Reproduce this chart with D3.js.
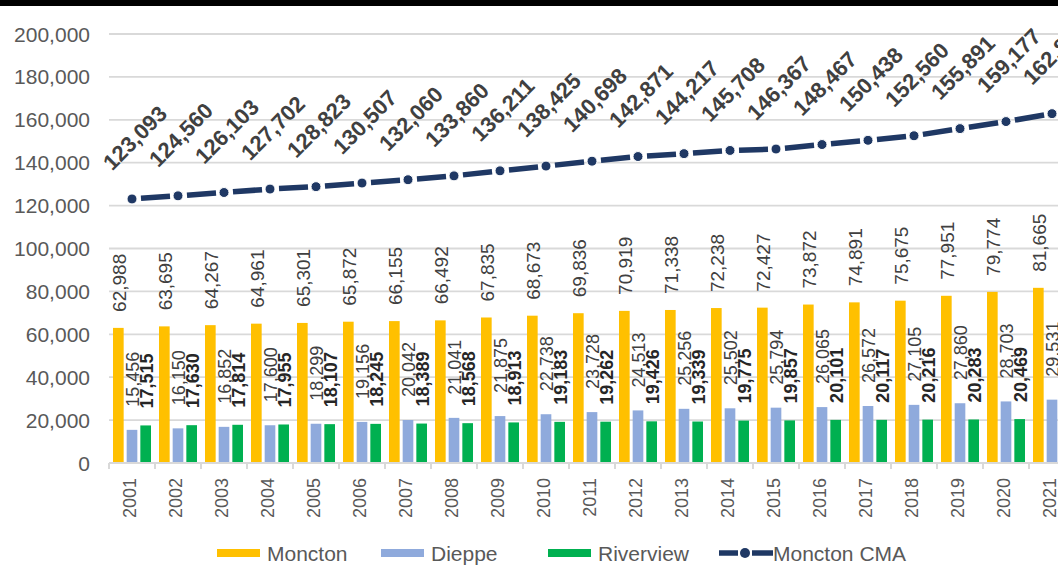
<!DOCTYPE html>
<html>
<head>
    <meta charset="utf-8">
    <script src="https://cdn.jsdelivr.net/npm/d3@7/dist/d3.min.js"></script>
    <style>
        body { margin: 0; background: #fff; }
        svg { display: block; font-family: "Liberation Sans", Arial, sans-serif; }
    </style>
</head>
<body>
<div id="chart"></div>
<script>
    var years = ["2001","2002","2003","2004","2005","2006","2007","2008","2009","2010",
        "2011","2012","2013","2014","2015","2016","2017","2018","2019","2020","2021"];
    var moncton = [62988,63695,64267,64961,65301,65872,66155,66492,67835,68673,
        69836,70919,71338,72238,72427,73872,74891,75675,77951,79774,81665];
    var dieppe = [15456,16150,16852,17600,18299,19156,20042,21041,21875,22738,
        23728,24513,25256,25502,25794,26065,26572,27105,27860,28703,29531];
    var riverview = [17515,17630,17814,17955,18107,18245,18389,18568,18913,19183,
        19262,19426,19339,19775,19857,20101,20117,20216,20283,20469,20640];
    var monctonCMA = [123093,124560,126103,127702,128823,130507,132060,133860,136211,138425,
        140698,142871,144217,145708,146367,148467,150438,152560,155891,159177,162860];
    var yTicks = [0,20000,40000,60000,80000,100000,120000,140000,160000,180000,200000];

    var barSeries = [
        { name: "Moncton", values: moncton, color: "#FFC000" },
        { name: "Dieppe", values: dieppe, color: "#8FAADC" },
        { name: "Riverview", values: riverview, color: "#00B050" }
    ];
    var lineColor = "#1F3864";

    var width = 1058, height = 567;
    var fmt = d3.format(",");

    var svg = d3.select("#chart").append("svg")
        .attr("width", width)
        .attr("height", height);

    // cropped black band at top of the screenshot
    svg.append("rect").attr("x", 0).attr("y", 0).attr("width", width).attr("height", 6).attr("fill", "#000");

    var x = d3.scaleBand().domain(years).range([109, 109 + 46 * years.length]);
    var xs = d3.scaleBand().domain(barSeries.map(d => d.name)).range([4, 42]).paddingInner(0.22);
    var y = d3.scaleLinear().domain([0, 200000]).range([463, 34]);

    // gridlines
    svg.append("g").selectAll("line")
        .data(yTicks.filter(d => d > 0))
        .join("line")
        .attr("x1", 109).attr("x2", width)
        .attr("y1", d => y(d)).attr("y2", d => y(d))
        .attr("stroke", "#d9d9d9")
        .attr("stroke-width", 1.8);

    // y axis labels
    svg.append("g").selectAll("text")
        .data(yTicks)
        .join("text")
        .attr("x", 90)
        .attr("y", d => y(d))
        .attr("text-anchor", "end")
        .attr("dominant-baseline", "central")
        .attr("fill", "#595959")
        .style("font-size", "21px")
        .text(d => fmt(d));

    // bars
    barSeries.forEach(function (s) {
        svg.append("g").selectAll("rect")
            .data(s.values)
            .join("rect")
            .attr("x", (d, i) => x(years[i]) + xs(s.name))
            .attr("width", xs.bandwidth())
            .attr("y", d => y(d))
            .attr("height", d => y(0) - y(d))
            .attr("fill", s.color);
    });

    // category axis
    svg.append("line")
        .attr("x1", 109).attr("x2", width)
        .attr("y1", y(0)).attr("y2", y(0))
        .attr("stroke", "#d9d9d9").attr("stroke-width", 2);
    svg.append("g").selectAll("line")
        .data(years.concat(["end"]))
        .join("line")
        .attr("x1", (d, i) => 109 + i * x.step())
        .attr("x2", (d, i) => 109 + i * x.step())
        .attr("y1", y(0)).attr("y2", y(0) + 6)
        .attr("stroke", "#d9d9d9").attr("stroke-width", 2);

    svg.append("g").selectAll("text")
        .data(years)
        .join("text")
        .attr("transform", d => "translate(" + (x(d) + x.bandwidth() / 2 - 2) + ",478) rotate(-90)")
        .attr("text-anchor", "end")
        .attr("dominant-baseline", "central")
        .attr("fill", "#595959")
        .style("font-size", "18px")
        .text(d => d);

    // CMA line: dashed segments with gaps round the markers
    var pts = monctonCMA.map((v, i) => [x(years[i]) + x.bandwidth() / 2, y(v)]);
    var segs = d3.pairs(pts);
    svg.append("g").selectAll("line")
        .data(segs)
        .join("line")
        .each(function (p) {
            var dx = p[1][0] - p[0][0], dy = p[1][1] - p[0][1];
            var len = Math.sqrt(dx * dx + dy * dy);
            var ux = dx / len, uy = dy / len;
            d3.select(this)
                .attr("x1", p[0][0] + ux * 9).attr("y1", p[0][1] + uy * 9)
                .attr("x2", p[1][0] - ux * 8).attr("y2", p[1][1] - uy * 8);
        })
        .attr("stroke", lineColor)
        .attr("stroke-width", 5.5);

    svg.append("g").selectAll("circle")
        .data(pts)
        .join("circle")
        .attr("cx", d => d[0]).attr("cy", d => d[1])
        .attr("r", 5)
        .attr("fill", lineColor)
        .attr("stroke", "#fff").attr("stroke-width", 1);

    // labels
    var labelOffsets = { Moncton: 16, Dieppe: 23, Riverview: 17 };
    barSeries.forEach(function (s) {
        svg.append("g").selectAll("text")
            .data(s.values)
            .join("text")
            .attr("transform", (d, i) => "translate(" + (x(years[i]) + xs(s.name) + xs.bandwidth() / 2 + 1) + "," +
                (y(d) - labelOffsets[s.name]) + ") rotate(-90)")
            .attr("text-anchor", "start")
            .attr("dominant-baseline", "central")
            .attr("fill", s.name === "Riverview" ? "#262626" : "#404040")
            .style("font-size", s.name === "Moncton" ? "19px" : "18px")
            .style("font-weight", s.name === "Riverview" ? "bold" : "normal")
            .text(d => fmt(d));
    });

    svg.append("g").selectAll("text")
        .data(monctonCMA)
        .join("text")
        .attr("transform", (d, i) => "translate(" + (pts[i][0] + 3) + "," + (pts[i][1] - 61) + ") rotate(-45)")
        .attr("text-anchor", "middle")
        .attr("dominant-baseline", "central")
        .attr("fill", "#404040")
        .style("font-size", "22px")
        .style("font-weight", "bold")
        .text(d => fmt(d));

    // legend
    var legendY = 553;
    var legend = [
        { name: "Moncton", color: "#FFC000", sx: 217, tx: 267 },
        { name: "Dieppe", color: "#8FAADC", sx: 381, tx: 431 },
        { name: "Riverview", color: "#00B050", sx: 548, tx: 598 }
    ];
    legend.forEach(function (l) {
        svg.append("rect").attr("x", l.sx).attr("y", legendY - 4).attr("width", 43).attr("height", 8).attr("fill", l.color);
        svg.append("text").attr("x", l.tx).attr("y", legendY).attr("dominant-baseline", "central")
            .attr("fill", "#595959").style("font-size", "21px").text(l.name);
    });
    svg.append("line").attr("x1", 719).attr("x2", 738).attr("y1", legendY).attr("y2", legendY)
        .attr("stroke", lineColor).attr("stroke-width", 5.5);
    svg.append("line").attr("x1", 752).attr("x2", 773).attr("y1", legendY).attr("y2", legendY)
        .attr("stroke", lineColor).attr("stroke-width", 5.5);
    svg.append("circle").attr("cx", 745).attr("cy", legendY).attr("r", 5).attr("fill", lineColor);
    svg.append("text").attr("x", 773).attr("y", legendY).attr("dominant-baseline", "central")
        .attr("fill", "#595959").style("font-size", "21px").text("Moncton CMA");
</script>
</body>
</html>
